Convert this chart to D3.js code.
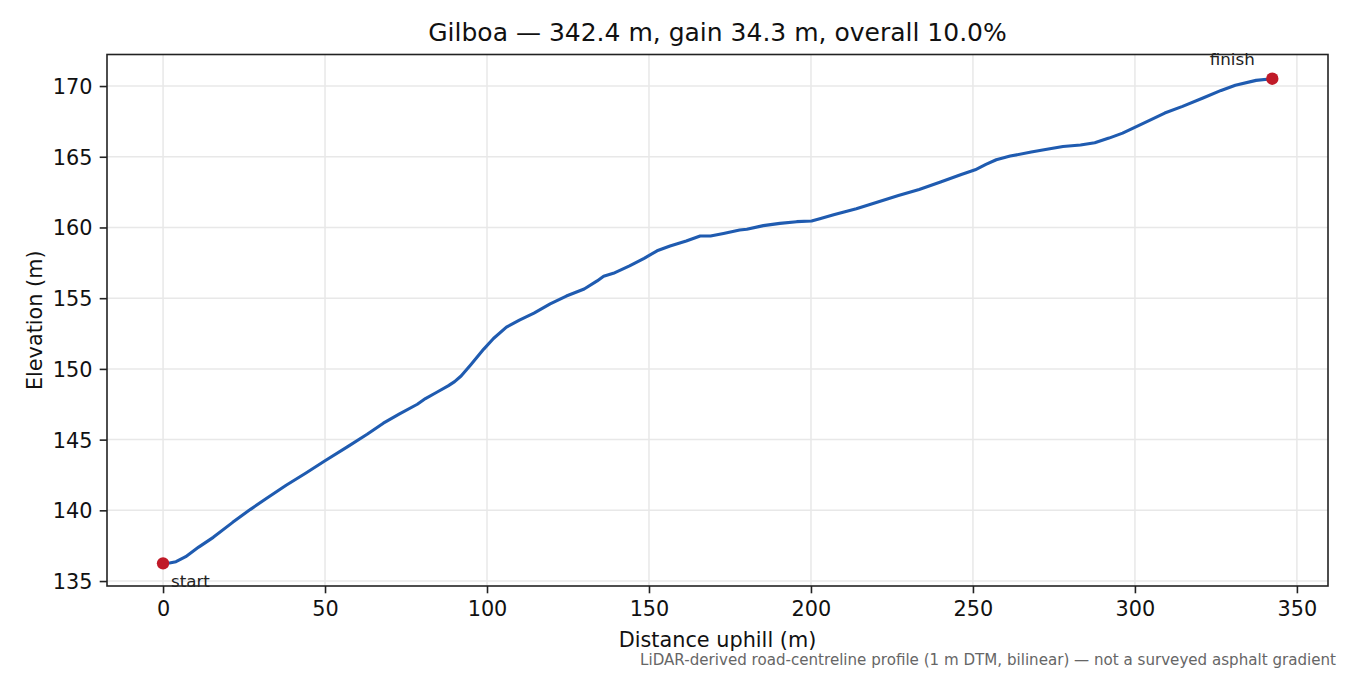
<!DOCTYPE html>
<html>
<head>
<meta charset="utf-8">
<script src="https://cdn.jsdelivr.net/npm/d3@7"></script>
<style>
  body { margin: 0; background: #fff; }
  svg { font-family: "DejaVu Sans", sans-serif; }
</style>
</head>
<body>
<svg id="chart" width="1350" height="675"></svg>
<script>
// Elevation profile
var distance = [0, 2, 4, 7, 11, 15.5, 21.5, 27, 32, 38, 44, 50, 57, 63, 68, 73, 78.5, 81, 84.5, 88,
	90, 92, 95, 99, 102, 106, 110, 114.5, 119.5, 124.5, 130, 134, 136, 139, 144, 148.5, 152.5, 156.5,
	161.5, 165.8, 169, 173, 178, 180.2, 185.3, 190.4, 195.6, 200.2, 203, 207, 214, 220.4, 227, 233.4,
	240, 246.4, 250.7, 254, 257.2, 261.5, 268, 272.4, 277.8, 283.2, 287.6, 292, 296.2, 300.6, 305,
	309.2, 314.7, 321.2, 326.6, 331, 337.4, 342.4];
var elevation = [136.25, 136.28, 136.37, 136.72, 137.4, 138.09, 139.15, 140.07, 140.85, 141.77, 142.62,
	143.51, 144.5, 145.38, 146.16, 146.82, 147.5, 147.9, 148.35, 148.8, 149.1, 149.5, 150.3, 151.4,
	152.15, 152.95, 153.45, 153.95, 154.6, 155.15, 155.65, 156.22, 156.55, 156.76, 157.28, 157.82,
	158.35, 158.69, 159.04, 159.4, 159.4, 159.58, 159.82, 159.87, 160.13, 160.29, 160.41, 160.46,
	160.64, 160.9, 161.32, 161.79, 162.26, 162.69, 163.21, 163.75, 164.08, 164.46, 164.79, 165.05,
	165.33, 165.52, 165.73, 165.83, 165.99, 166.32, 166.67, 167.15, 167.62, 168.09, 168.56, 169.17,
	169.69, 170.05, 170.4, 170.52];
var xTicks = [0, 50, 100, 150, 200, 250, 300, 350];
var yTicks = [135, 140, 145, 150, 155, 160, 165, 170];
var endLabels = ["start", "finish"];

var titleText = "Gilboa \u2014 342.4 m, gain 34.3 m, overall 10.0%";
var noteText = "LiDAR-derived road-centreline profile (1 m DTM, bilinear) \u2014 not a surveyed asphalt gradient";

var margin = {left: 107, right: 22, top: 54.5, bottom: 89};
var lineColor = "#1f5bb0";
var dotColor = "#c01a28";
var tickFont = 20.8;

var svg = d3.select("#chart");
var width = +svg.attr("width");
var height = +svg.attr("height");

var x = d3.scaleLinear()
	.domain([-17.3, 359.6])
	.range([margin.left, width - margin.right]);
var y = d3.scaleLinear()
	.domain([134.65, 172.23])
	.range([height - margin.bottom, margin.top]);

var points = distance.map(function(d, i) { return [d, elevation[i]]; });

// grid
var grid = svg.append("g");
grid.selectAll("line.gx")
	.data(xTicks)
	.enter()
	.append("line")
	.attr("x1", function(d) { return x(d); })
	.attr("x2", function(d) { return x(d); })
	.attr("y1", y.range()[0])
	.attr("y2", y.range()[1])
	.attr("stroke", "#e8e8e8")
	.attr("stroke-width", 1.5);
grid.selectAll("line.gy")
	.data(yTicks)
	.enter()
	.append("line")
	.attr("x1", x.range()[0])
	.attr("x2", x.range()[1])
	.attr("y1", function(d) { return y(d); })
	.attr("y2", function(d) { return y(d); })
	.attr("stroke", "#e8e8e8")
	.attr("stroke-width", 1.5);

// profile line
var line = d3.line()
	.x(function(d) { return x(d[0]); })
	.y(function(d) { return y(d[1]); });
svg.append("path")
	.datum(points)
	.attr("d", line)
	.attr("fill", "none")
	.attr("stroke", lineColor)
	.attr("stroke-width", 3.1)
	.attr("stroke-linejoin", "round")
	.attr("stroke-linecap", "round");

// start / finish markers
var ends = [points[0], points[points.length - 1]];
svg.selectAll("circle")
	.data(ends)
	.enter()
	.append("circle")
	.attr("cx", function(d) { return x(d[0]); })
	.attr("cy", function(d) { return y(d[1]); })
	.attr("r", 6.2)
	.attr("fill", dotColor);

svg.append("text")
	.attr("x", x(ends[0][0]) + 8)
	.attr("y", y(ends[0][1]) + 24)
	.attr("font-size", 16.7)
	.attr("fill", "#222")
	.text(endLabels[0]);
svg.append("text")
	.attr("x", x(ends[1][0]) - 40)
	.attr("y", y(ends[1][1]) - 13.5)
	.attr("text-anchor", "middle")
	.attr("font-size", 16.7)
	.attr("fill", "#222")
	.text(endLabels[1]);

// axes
var xAxis = d3.axisBottom(x)
	.tickValues(xTicks)
	.tickSize(7.3)
	.tickPadding(7.3)
	.tickFormat(d3.format("d"));
var yAxis = d3.axisLeft(y)
	.tickValues(yTicks)
	.tickSize(7.3)
	.tickPadding(7.3)
	.tickFormat(d3.format("d"));

var gx = svg.append("g")
	.attr("transform", "translate(0," + y.range()[0] + ")")
	.call(xAxis);
var gy = svg.append("g")
	.attr("transform", "translate(" + x.range()[0] + ",0)")
	.call(yAxis);
[gx, gy].forEach(function(g) {
	g.select(".domain").remove();
	g.selectAll(".tick line").attr("stroke", "#222").attr("stroke-width", 1.6);
	g.selectAll(".tick text")
		.attr("font-size", tickFont)
		.attr("font-family", "DejaVu Sans")
		.attr("fill", "#111");
});
gx.selectAll(".tick text").attr("dy", "0.74em");
gy.selectAll(".tick text").attr("dy", "0.36em");

// frame
svg.append("rect")
	.attr("x", x.range()[0])
	.attr("y", y.range()[1])
	.attr("width", x.range()[1] - x.range()[0])
	.attr("height", y.range()[0] - y.range()[1])
	.attr("fill", "none")
	.attr("stroke", "#222")
	.attr("stroke-width", 1.6);

// labels
var midX = (x.range()[0] + x.range()[1]) / 2;
var midY = (y.range()[0] + y.range()[1]) / 2;
svg.append("text")
	.attr("x", midX)
	.attr("y", 41)
	.attr("text-anchor", "middle")
	.attr("font-size", 25)
	.attr("fill", "#111")
	.text(titleText);
svg.append("text")
	.attr("x", midX)
	.attr("y", 646.5)
	.attr("text-anchor", "middle")
	.attr("font-size", 20.8)
	.attr("fill", "#111")
	.text("Distance uphill (m)");
svg.append("text")
	.attr("transform", "translate(41.5," + midY + ") rotate(-90)")
	.attr("text-anchor", "middle")
	.attr("font-size", 20.8)
	.attr("fill", "#111")
	.text("Elevation (m)");
svg.append("text")
	.attr("x", 1336)
	.attr("y", 665)
	.attr("text-anchor", "end")
	.attr("font-size", 15.1)
	.attr("fill", "#666")
	.text(noteText);
</script>
</body>
</html>
